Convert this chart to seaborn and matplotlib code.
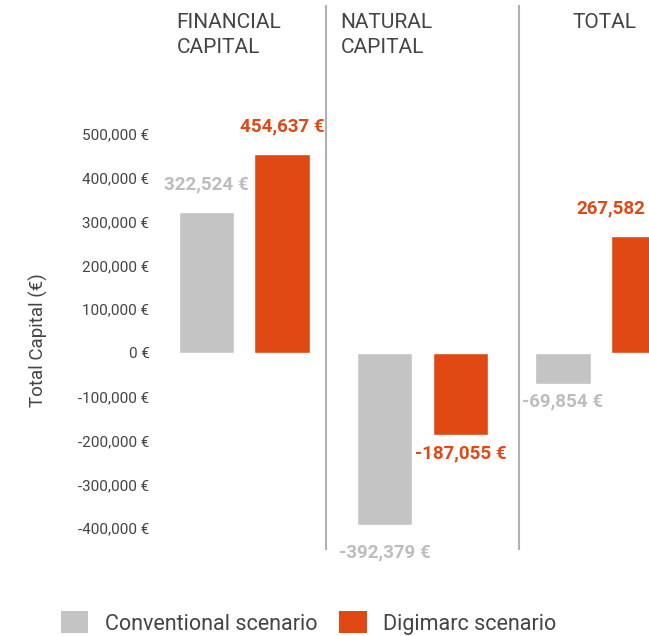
import pandas as pd
import matplotlib.pyplot as plt
import seaborn as sns
from matplotlib.patches import Patch
from matplotlib.ticker import FuncFormatter

# data
categories = ["FINANCIAL\nCAPITAL", "NATURAL\nCAPITAL", "TOTAL"]
scenarios = ["Conventional scenario", "Digimarc scenario"]
conventional = [322524, -392379, -69854]
digimarc = [454637, -187055, 267582]
yticks = [-400000, -300000, -200000, -100000, 0, 100000, 200000, 300000, 400000, 500000]

colors = {"Conventional scenario": "#c4c4c4", "Digimarc scenario": "#e04814"}
label_colors = {"Conventional scenario": "#bdbdbd", "Digimarc scenario": "#e04814"}
text_color = "#444444"

df = pd.DataFrame({
    "category": categories * 2,
    "scenario": [scenarios[0]] * 3 + [scenarios[1]] * 3,
    "value": conventional + digimarc,
})

sns.set_theme(style="white")
plt.rcParams["font.family"] = ["Roboto", "DejaVu Sans"]

fig = plt.figure(figsize=(6.49, 6.36), dpi=100)
ax = fig.add_axes([155 / 649, 86 / 636, 494 / 649, 545 / 636])

sns.barplot(data=df, x="category", y="value", hue="scenario", hue_order=scenarios,
            palette=colors, width=0.85, gap=0.27, saturation=1, legend=False, ax=ax)

ax.set_xlim(-0.5, 2.27)
ax.set_ylim(-449800, 794500)
ax.set_yticks(yticks)
ax.yaxis.set_major_formatter(FuncFormatter(lambda v, p: f"{int(v):,} €"))
ax.tick_params(axis="y", length=0, pad=4, labelsize=11, labelcolor=text_color)
ax.set_xticks([])
ax.set_xlabel("")
ax.set_ylabel("")
for s in ax.spines.values():
    s.set_visible(False)

# group separators
for xs in [0.46, 1.54]:
    ax.axvline(xs, color="#b0b0b0", lw=1.5)

# group headers
header_x = [-0.38, 0.54, 1.84]
for hx, name in zip(header_x, categories):
    ax.text(hx, 1 - 8 / 545, name, transform=ax.get_xaxis_transform(),
            ha="left", va="top", fontsize=15, color=text_color, linespacing=1.4)

# value labels
xmax = ax.get_xlim()[1]
for cont, scen in zip(ax.containers, scenarios):
    for bar, val in zip(cont, df[df.scenario == scen]["value"]):
        cx = bar.get_x() + bar.get_width() / 2
        off = 20 if val > 0 else -20
        if scen == "Digimarc scenario" and -300000 < val < 0:
            off = -13
        if scen == "Conventional scenario" and -100000 < val < 0:
            off = -13
        txt = f"{val:,} €"
        ha = "center"
        if bar.get_x() + bar.get_width() > xmax:
            # bar runs past the right edge: only the number is visible
            txt = f"{val:,}"
            cx = xmax - 0.02
            ha = "right"
        ax.annotate(txt, (cx, val), xytext=(0, off), textcoords="offset points",
                    ha=ha, va="center", fontsize=13.5, fontweight="bold",
                    color=label_colors[scen], annotation_clip=False)

fig.text(38 / 649, 1 - 340 / 636, "Total Capital (€)", rotation=90, ha="center",
         va="center", fontsize=13.5, color=text_color)

handles = [Patch(facecolor=colors[s], edgecolor="none") for s in scenarios]
fig.legend(handles, scenarios, loc="center", bbox_to_anchor=(0.475, 13 / 636), ncol=2,
           frameon=False, fontsize=15.5, handlelength=1.3, handleheight=1.2,
           handletextpad=0.75, columnspacing=1.0, labelcolor=text_color)

fig.savefig("out.png", dpi=100)
